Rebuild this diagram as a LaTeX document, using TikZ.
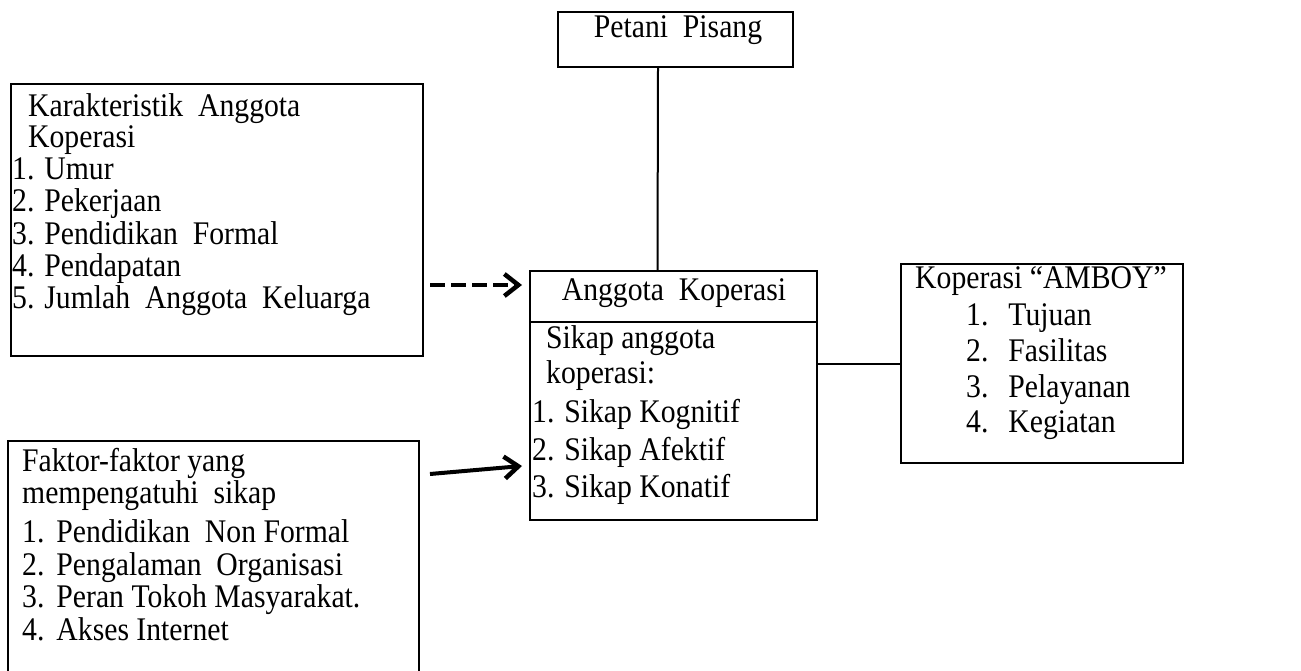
\documentclass[tikz,border=0pt]{standalone}
\usepackage{fontspec}
\setmainfont{Liberation Serif}[FakeStretch=0.9]
\usetikzlibrary{arrows.meta}
\begin{document}
\begin{tikzpicture}[x=1pt,y=-1pt,
  box/.style={draw,line width=2pt,inner sep=0pt,anchor=north west},
  txt/.style={anchor=base west,inner sep=0pt,font=\fontsize{33}{35}\selectfont},
  ctxt/.style={txt,anchor=base},
  conn/.style={line width=2pt},
  arr/.style={line width=4pt,-{Straight Barb[length=14pt,width=22pt,line width=4.5pt]}},
  darr/.style={arr,dash pattern=on 15pt off 6pt}]
\clip (0,0) rectangle (1301,671);
\fill[white] (0,0) rectangle (1301,671);
% boxes
\node[box,minimum width=235pt,minimum height=55pt] (petani) at (557,11) {};
\node[box,minimum width=412pt,minimum height=272pt] (kar) at (10,83) {};
\node[box,minimum width=287pt,minimum height=249pt] (ang) at (529,270) {};
\node[box,minimum width=282pt,minimum height=199pt] (amboy) at (900,263) {};
\node[box,minimum width=411pt,minimum height=260pt] (fak) at (7,440) {};
% texts
\node[ctxt] (p1) at (678,38) {Petani\ \ Pisang};
\node[txt] (k1) at (28,117) {Karakteristik\ \ Anggota};
\node[txt] (k2) at (28,148) {Koperasi};
\node[txt] (k3) at (12,180) {1. Umur};
\node[txt] (k4) at (12,212) {2. Pekerjaan};
\node[txt] (k5) at (12,244) {3. Pendidikan\ \ Formal};
\node[txt] (k6) at (12,276) {4. Pendapatan};
\node[txt] (k7) at (12,308) {5. Jumlah\ \ Anggota\ \ Keluarga};
\node[ctxt] (a0) at (674,300) {Anggota\ \ Koperasi};
\node[txt] (a1) at (546,348) {Sikap anggota};
\node[txt] (a2) at (546,383) {koperasi:};
\node[txt] (a3) at (532,422) {1. Sikap Kognitif};
\node[txt] (a4) at (532,460) {2. Sikap Afektif};
\node[txt] (a5) at (532,497) {3. Sikap Konatif};
\node[txt] (m0) at (915,288) {Koperasi “AMBOY”};
\node[txt] (m1) at (966,325) {1.\hspace{20pt}Tujuan};
\node[txt] (m2) at (966,361) {2.\hspace{20pt}Fasilitas};
\node[txt] (m3) at (966,397) {3.\hspace{20pt}Pelayanan};
\node[txt] (m4) at (966,432) {4.\hspace{20pt}Kegiatan};
\node[txt] (f1) at (22,471) {Faktor-faktor yang};
\node[txt] (f2) at (22,503) {mempengatuhi\ \ sikap};
\node[txt] (f3) at (22,542) {1.\hspace{12pt}Pendidikan\ \ Non Formal};
\node[txt] (f4) at (22,575) {2.\hspace{12pt}Pengalaman\ \ Organisasi};
\node[txt] (f5) at (22,607) {3.\hspace{12pt}Peran Tokoh Masyarakat.};
\node[txt] (f6) at (22,640) {4.\hspace{12pt}Akses Internet};
% connectors
\coordinate (div) at (673,322);
\draw[conn] (ang.west |- div) -- (ang.east |- div);
\draw[conn] ([xshift=-17.5pt]petani.south) -- ([xshift=-16pt]ang.north);
\coordinate (hl) at (860,364);
\draw[conn] (ang.east |- hl) -- (amboy.west |- hl);
\coordinate (d1s) at (430,285);
\coordinate (d1e) at (522,285);
\draw[darr] (d1s) -- (d1e);
\coordinate (d2s) at (430,474);
\coordinate (d2e) at (522,466);
\draw[arr] (d2s) -- (d2e);
\end{tikzpicture}
\end{document}
